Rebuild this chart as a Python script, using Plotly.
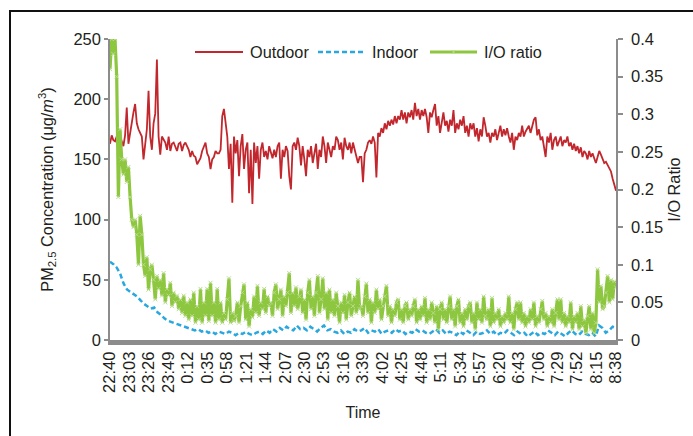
import numpy as np
import plotly.graph_objects as go

# ---------------- data ----------------
time_labels = ["22:40", "23:03", "23:26", "23:49", "0:12", "0:35", "0:58", "1:21", "1:44",
               "2:07", "2:30", "2:53", "3:16", "3:39", "4:02", "4:25", "4:48", "5:11", "5:34",
               "5:57", "6:20", "6:43", "7:06", "7:29", "7:52", "8:15", "8:38"]
label_step_min = 23  # minutes between labelled categories
total_minutes = label_step_min * (len(time_labels) - 1)

# Outdoor PM2.5 (ug/m3), ~2-minute resolution
outdoor = [
    163, 170, 166, 165, 169, 161, 169, 164, 161, 170, 193, 163, 172, 184, 189, 196, 180, 175, 172, 169,
    150, 162, 175, 207, 169, 158, 180, 188, 233, 169, 154, 169, 166, 164, 158, 169, 157, 163, 164, 161,
    157, 163, 164, 157, 162, 164, 161, 158, 152, 157, 153, 152, 146, 149, 151, 157, 160, 164, 155, 152,
    142, 150, 152, 157, 155, 155, 158, 186, 192, 181, 169, 142, 163, 114, 169,
    155, 166, 136, 161, 171, 142, 158, 164, 122, 158, 113, 164, 147, 161, 134, 158, 164, 152, 157, 150,
    161, 155, 151, 158, 152, 161, 164, 134, 158, 152, 161, 157, 136, 125, 161, 164, 158, 168, 161, 145,
    161, 150, 136, 158, 152, 161, 147, 155, 163, 142, 158, 152, 169, 161, 147, 164, 158, 152, 161, 158,
    169, 166, 158, 164, 150, 168, 161, 158, 164, 155, 164, 158, 152, 147, 152,
    152, 131, 155, 158, 164, 166, 163, 169, 164, 135, 172, 169, 176, 172, 180, 175, 182, 178, 183, 179,
    186, 180, 186, 183, 191, 183, 189, 180, 189, 185, 191, 183, 197, 186, 192, 183, 191, 186, 192, 185,
    172, 189, 185, 191, 196, 178, 186, 172, 183, 189, 178, 182, 173, 183, 178, 191, 172, 180, 175, 183,
    178, 186, 172, 178, 169, 180, 175, 180, 169, 176, 165, 175, 169, 185, 178,
    169, 172, 164, 172, 169, 175, 166, 172, 178, 169, 175, 170, 176, 169, 164, 172, 158, 169, 166, 172,
    169, 178, 169, 173, 175, 178, 172, 178, 183, 185, 170, 175, 166, 169, 161, 152, 169, 164, 172, 158,
    166, 169, 161, 166, 169, 161, 166, 164, 169, 161, 164, 158, 163, 157, 161, 155, 160, 152, 157, 155,
    150, 157, 152, 155, 150, 147, 152, 157, 154, 150, 147, 148, 145, 142, 140, 134, 128, 124,
]

# Indoor PM2.5 (ug/m3), ~4-minute resolution
indoor = [
    65, 63, 60, 55, 47, 42, 40, 38, 36, 33, 30, 28, 26, 27, 23, 21, 18, 16, 15, 14,
    13, 12, 11, 10, 9, 8, 9, 7, 8, 6, 7, 5, 7, 6, 5, 7, 6, 4, 6, 5,
    7, 5, 4, 6, 7, 5, 8, 6, 9, 7, 10, 8, 11, 9, 8, 12, 9, 10, 8, 11,
    9, 7, 10, 12, 8, 9, 7, 6, 8, 5, 7, 6, 9, 7, 8, 10, 6, 8, 7, 9,
    5, 7, 8, 6, 9, 7, 8, 5, 7, 6, 9, 7, 8, 6, 5, 7, 9, 6, 8, 5,
    7, 6, 4, 7, 5, 8, 6, 4, 7, 5, 6, 8, 5, 7, 4, 6, 5, 8, 6, 4,
    7, 5, 6, 3, 5, 7, 4, 6, 5, 8, 6, 4, 7, 5, 3, 6, 8, 5, 4, 7,
    5, 4, 6, 3, 12, 10, 6, 8, 11, 10,
]

# I/O ratio, ~2-minute resolution
io_ratio = [
    0.36, 0.40, 0.38, 0.40, 0.35, 0.19, 0.28, 0.24, 0.22, 0.24, 0.21, 0.23, 0.19, 0.16, 0.15, 0.16, 0.14, 0.10, 0.165, 0.14,
    0.10, 0.085, 0.11, 0.067, 0.094, 0.10, 0.08, 0.054, 0.085, 0.068, 0.08, 0.059, 0.089, 0.05, 0.068, 0.059, 0.076, 0.045, 0.063, 0.05,
    0.059, 0.041, 0.054, 0.036, 0.059, 0.032, 0.05, 0.027, 0.054, 0.032, 0.063, 0.023, 0.045, 0.027, 0.068, 0.023, 0.05, 0.032, 0.068, 0.025,
    0.076, 0.032, 0.05, 0.023, 0.068, 0.027, 0.05, 0.023, 0.036, 0.027, 0.054, 0.082, 0.023, 0.036, 0.025,
    0.032, 0.05, 0.023, 0.045, 0.063, 0.074, 0.027, 0.05, 0.018, 0.041, 0.03, 0.058, 0.036, 0.072, 0.032, 0.05, 0.041, 0.068, 0.036, 0.058,
    0.045, 0.05, 0.032, 0.063, 0.074, 0.041, 0.054, 0.067, 0.032, 0.058, 0.045, 0.063, 0.089, 0.036, 0.063, 0.045, 0.07, 0.041, 0.058, 0.067,
    0.036, 0.054, 0.027, 0.063, 0.08, 0.041, 0.058, 0.032, 0.063, 0.085, 0.036, 0.054, 0.082, 0.041, 0.063, 0.027, 0.067, 0.036, 0.054, 0.032,
    0.063, 0.045, 0.023, 0.05, 0.036, 0.06, 0.027, 0.05, 0.063, 0.032, 0.045, 0.058, 0.036, 0.08, 0.041,
    0.045, 0.032, 0.058, 0.075, 0.036, 0.054, 0.023, 0.05, 0.036, 0.067, 0.041, 0.054, 0.027, 0.045, 0.058, 0.072, 0.032, 0.045, 0.023, 0.041,
    0.032, 0.05, 0.054, 0.027, 0.041, 0.023, 0.045, 0.05, 0.027, 0.041, 0.032, 0.045, 0.054, 0.023, 0.041, 0.027, 0.045, 0.032, 0.056, 0.023,
    0.041, 0.027, 0.05, 0.036, 0.023, 0.045, 0.014, 0.041, 0.05, 0.027, 0.041, 0.023, 0.045, 0.058, 0.027, 0.041, 0.018, 0.045, 0.054, 0.023,
    0.036, 0.018, 0.041, 0.027, 0.045, 0.05, 0.023, 0.036, 0.014, 0.05, 0.027, 0.041, 0.023, 0.058, 0.032,
    0.027, 0.041, 0.018, 0.056, 0.023, 0.036, 0.027, 0.041, 0.018, 0.032, 0.023, 0.036, 0.027, 0.058, 0.023, 0.036, 0.014, 0.041, 0.05, 0.027,
    0.05, 0.023, 0.036, 0.018, 0.032, 0.023, 0.041, 0.027, 0.05, 0.018, 0.032, 0.023, 0.041, 0.052, 0.027, 0.036, 0.018, 0.032, 0.023, 0.041,
    0.018, 0.036, 0.054, 0.027, 0.054, 0.023, 0.036, 0.018, 0.032, 0.023, 0.05, 0.014, 0.032, 0.023, 0.036, 0.014, 0.045, 0.018, 0.027, 0.009,
    0.032, 0.045, 0.014, 0.036, 0.009, 0.023, 0.094, 0.05, 0.072, 0.041, 0.045, 0.063, 0.085, 0.05, 0.08, 0.054, 0.078, 0.07,
]

# sampling grid (minutes after 22:40) for each series
t_out = np.linspace(0, total_minutes, len(outdoor))
t_in = np.linspace(0, total_minutes, len(indoor))
t_io = np.linspace(0, total_minutes, len(io_ratio))
tick_vals = [label_step_min * i for i in range(len(time_labels))]

# ---------------- styling ----------------
W, H = 693, 436
L, R, T, B = 110, 616, 39, 340  # plot-area pixel box
FONT = "Liberation Sans, Arial, Helvetica, sans-serif"
TXT = "#231f20"
AX = "#8c8c8c"
RED = "#c1272d"
BLUE = "#29a8e0"
GREEN = "#8dc63f"
DASH = "5px,3px"


def px(x):
    return (x - L) / (R - L)


def py(y):
    return (B - y) / (B - T)


fig = go.Figure()
fig.add_trace(go.Scatter(x=t_out, y=outdoor, mode="lines", name="Outdoor",
                         line=dict(color=RED, width=1.8), yaxis="y"))
fig.add_trace(go.Scatter(x=t_in, y=indoor, mode="lines", name="Indoor",
                         line=dict(color=BLUE, width=2.5, dash=DASH), yaxis="y"))
fig.add_trace(go.Scatter(x=t_io, y=io_ratio, mode="lines+markers", name="I/O ratio",
                         line=dict(color=GREEN, width=3.2),
                         marker=dict(symbol="x-thin", size=4, line=dict(color="#b9dc8c", width=1)),
                         yaxis="y2"))

shapes = []
annotations = []
# outer frame (top and left edges visible)
shapes.append(dict(type="path", xref="paper", yref="paper",
                   path=f"M {px(10)} {py(445)} L {px(10)} {py(11)} L {px(705)} {py(11)}",
                   line=dict(color="#111111", width=2)))
# manual legend
leg_y = py(52)
shapes.append(dict(type="line", xref="paper", yref="paper", x0=px(195), x1=px(243), y0=leg_y, y1=leg_y,
                   line=dict(color=RED, width=2)))
shapes.append(dict(type="line", xref="paper", yref="paper", x0=px(318), x1=px(365), y0=leg_y, y1=leg_y,
                   line=dict(color=BLUE, width=2.5, dash=DASH)))
shapes.append(dict(type="line", xref="paper", yref="paper", x0=px(430), x1=px(477), y0=leg_y, y1=leg_y,
                   line=dict(color=GREEN, width=3.2)))
for dx, dy in [(-2, -2), (-2, 2)]:
    shapes.append(dict(type="line", xref="paper", yref="paper",
                       x0=px(453.5 + dx), x1=px(453.5 - dx), y0=py(52 + dy), y1=py(52 - dy),
                       line=dict(color="#b9dc8c", width=1)))
for txt, x in [("Outdoor", 248), ("Indoor", 370), ("I/O ratio", 482)]:
    annotations.append(dict(text=txt, x=px(x), y=leg_y, xref="paper", yref="paper",
                            xanchor="left", yanchor="middle", showarrow=False,
                            font=dict(family=FONT, size=16.3, color=TXT)))

fig.update_layout(
    width=W, height=H,
    margin=dict(l=L, r=W - R, t=T, b=H - B, autoexpand=False),
    paper_bgcolor="white", plot_bgcolor="white",
    showlegend=False,
    font=dict(family=FONT, size=16, color=TXT),
    shapes=shapes, annotations=annotations,
    xaxis=dict(range=[0, total_minutes], tickmode="array", tickvals=tick_vals, ticktext=time_labels,
               tickangle=-90, showgrid=False, zeroline=False, showline=True, linecolor=AX, linewidth=5,
               ticks="", tickfont=dict(size=16.5, color=TXT),
               title=dict(text="Time", font=dict(size=16, color=TXT), standoff=16)),
    yaxis=dict(range=[0, 250], dtick=50, showgrid=False, zeroline=False, showline=True,
               linecolor=AX, linewidth=1.5, ticks="outside", ticklen=4, tickwidth=1.5, tickcolor=AX,
               tickfont=dict(size=16.5, color=TXT),
               title=dict(text="PM<sub>2.5</sub> Concentration (μg/<i>m</i><sup>3</sup>)",
                          font=dict(size=16.3, color=TXT), standoff=16)),
    yaxis2=dict(range=[0, 0.4], dtick=0.05, overlaying="y", side="right", showgrid=False, zeroline=False,
                showline=True, linecolor=AX, linewidth=1.5, ticks="outside", ticklen=5, tickwidth=1.5,
                tickcolor=AX, tickfont=dict(size=16.5, color=TXT), ticklabelstandoff=5,
                title=dict(text="I/O Ratio", font=dict(size=16.3, color=TXT), standoff=6)),
)

fig.write_html("out.html")
